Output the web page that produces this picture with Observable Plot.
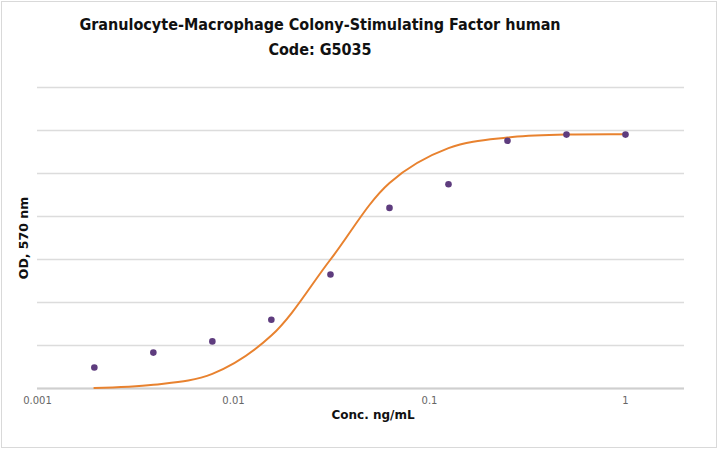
<!DOCTYPE html>
<html>
<head>
<meta charset="utf-8">
<script src="https://cdn.jsdelivr.net/npm/d3@7"></script>
<script src="https://cdn.jsdelivr.net/npm/@observablehq/plot@0.6"></script>
<style>
  html, body { margin: 0; padding: 0; background: #fff; }
  #frame { position: absolute; left: 1px; top: 1px; width: 714px; height: 445px; border: 1px solid #d9d9d9; }
  #title { position: absolute; left: 0; top: 12px; width: 640px; text-align: center;
           font-family: "DejaVu Sans", Verdana, sans-serif; font-weight: bold; font-size: 16px;
           font-stretch: condensed; line-height: 25px; color: #111; }
  #chart { position: absolute; left: 0; top: 70px; }
</style>
</head>
<body>
<div id="frame"></div>
<div id="title">Granulocyte-Macrophage Colony-Stimulating Factor human<br>Code: G5035</div>
<div id="chart"></div>
<script>
// Measured data (OD at 570 nm vs concentration)
const conc = [0.00195, 0.0039, 0.0078, 0.0156, 0.03125, 0.0625, 0.125, 0.25, 0.5, 1];
const od = [0.098, 0.167, 0.219, 0.320, 0.530, 0.840, 0.950, 1.152, 1.181, 1.181];
// Fitted curve values read at the same concentrations
const fitOd = [0.002, 0.017, 0.068, 0.246, 0.600, 0.956, 1.118, 1.167, 1.181, 1.183];
const xTicks = [0.001, 0.01, 0.1, 1];
const xTickLabels = ["0.001", "0.01", "0.1", "1"];
const yTicks = [0, 0.2, 0.4, 0.6, 0.8, 1.0, 1.2, 1.4];

const points = conc.map((c, i) => ({conc: c, od: od[i]}));
const fit = conc.map((c, i) => ({conc: c, od: fitOd[i]}));

const chart = Plot.plot({
  width: 718,
  height: 380,
  marginTop: 17,
  marginBottom: 62,
  marginLeft: 37,
  marginRight: 34,
  style: {fontFamily: "DejaVu Sans, Verdana, sans-serif", background: "transparent"},
  x: {type: "log", domain: [0.001, 2]},
  y: {domain: [0, 1.4]},
  marks: [
    Plot.gridY(yTicks, {stroke: "#dcdcdc", strokeOpacity: 1, strokeWidth: 1.5}),
    Plot.ruleY([0], {stroke: "#cfcfcf", strokeWidth: 2}),
    Plot.axisX(xTicks, {tickSize: 0, tickPadding: 8, fontSize: 10, fill: "#666",
      tickFormat: (d) => xTickLabels[xTicks.indexOf(d)], label: null}),
    Plot.axisY({ticks: [], label: null}),
    Plot.line(fit, {x: "conc", y: "od", stroke: "#E8822F", strokeWidth: 2, curve: "catmull-rom"}),
    Plot.dot(points, {x: "conc", y: "od", r: 3.3, fill: "#5E3C7E", stroke: "none"}),
    Plot.text(["Conc. ng/mL"], {frameAnchor: "bottom", dy: 27, dx: 12, fontSize: 12,
      fontWeight: "bold", fill: "#111", lineAnchor: "middle", textAnchor: "middle"}),
    Plot.text(["OD, 570 nm"], {frameAnchor: "left", dx: -14, rotate: -90, fontSize: 12.5,
      fontWeight: "bold", fill: "#111", lineAnchor: "middle", textAnchor: "middle"})
  ]
});
document.getElementById("chart").appendChild(chart);
</script>
</body>
</html>
